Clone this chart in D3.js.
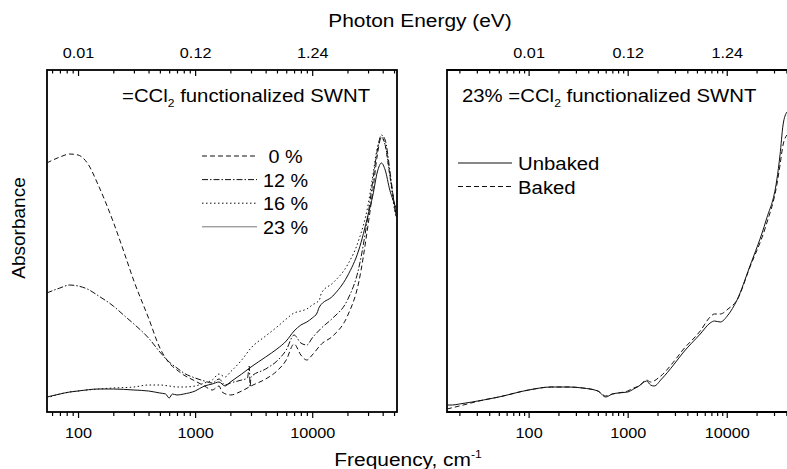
<!DOCTYPE html>
<html lang="en">
<head>
<meta charset="UTF-8">
<title>=CCl2 functionalized SWNT absorbance</title>
<style>
  body { margin: 0; background: #fff; }
  svg { display: block; font-family: Arial, "Liberation Sans", sans-serif; }
  .frame { fill: none; stroke: #000; stroke-width: 1.8px; }
  .curve { fill: none; stroke: #111; stroke-width: 1px; }
  .tick line { stroke: #000; stroke-width: 1.2px; }
</style>
</head>
<body>
<svg id="chart" width="787" height="469"></svg>
<script src="https://cdn.jsdelivr.net/npm/d3@7/dist/d3.min.js"></script>
<script>
// --- data (frequency in cm^-1, absorbance in arbitrary units) ---
const freq0 = [54, 70, 85, 100, 120, 150, 200, 250, 300, 400, 500, 600, 700, 800, 1000, 1200, 1400, 1600, 1700, 2000, 2500, 3000, 4000, 5000, 6000, 7000, 8000, 9000, 10000, 12000, 15000, 20000, 25000, 30000, 33000, 36000, 39000, 42000, 46000, 49000, 52000];
const abs0  = [2.49, 2.55, 2.58, 2.57, 2.49, 2.26, 1.90, 1.58, 1.31, 0.94, 0.64, 0.49, 0.42, 0.37, 0.31, 0.26, 0.22, 0.26, 0.20, 0.17, 0.21, 0.26, 0.33, 0.41, 0.52, 0.68, 0.57, 0.52, 0.57, 0.68, 0.76, 0.96, 1.30, 1.87, 2.22, 2.57, 2.75, 2.67, 2.37, 2.17, 1.97];

const freq12 = [54, 70, 85, 100, 120, 150, 200, 250, 300, 400, 500, 600, 700, 800, 1000, 1200, 1400, 1600, 1800, 2000, 2500, 2800, 2900, 2950, 3000, 4000, 5000, 6000, 7000, 8000, 9000, 10000, 12000, 15000, 20000, 25000, 30000, 33000, 36000, 39000, 42000, 46000, 49000, 52000];
const abs12  = [1.19, 1.24, 1.27, 1.26, 1.23, 1.16, 1.06, 0.96, 0.88, 0.74, 0.60, 0.50, 0.44, 0.39, 0.34, 0.31, 0.29, 0.33, 0.27, 0.29, 0.32, 0.34, 0.46, 0.25, 0.35, 0.43, 0.51, 0.62, 0.77, 0.69, 0.67, 0.74, 0.84, 0.94, 1.12, 1.44, 1.97, 2.32, 2.62, 2.77, 2.72, 2.42, 2.17, 1.95];

const freq16 = [54, 70, 85, 100, 150, 200, 300, 400, 500, 600, 700, 800, 1000, 1200, 1400, 1600, 1800, 2000, 2500, 3000, 4000, 5000, 6000, 7000, 8000, 9000, 10000, 11500, 12000, 15000, 20000, 25000, 30000, 33000, 36000, 39000, 42000, 46000, 49000, 52000];
const abs16  = [0.14, 0.18, 0.20, 0.21, 0.23, 0.24, 0.25, 0.27, 0.27, 0.26, 0.25, 0.25, 0.26, 0.29, 0.32, 0.38, 0.35, 0.40, 0.52, 0.64, 0.76, 0.85, 0.93, 0.99, 1.01, 1.03, 1.07, 1.12, 1.19, 1.29, 1.47, 1.72, 2.07, 2.37, 2.64, 2.74, 2.67, 2.37, 2.12, 1.94];

const freq23 = [54, 70, 85, 100, 150, 200, 300, 400, 500, 560, 600, 640, 700, 800, 1000, 1200, 1400, 1600, 1800, 2000, 2500, 3000, 4000, 5000, 6000, 7000, 8000, 9000, 10000, 11000, 11500, 15000, 20000, 25000, 30000, 33000, 36000, 39000, 42000, 46000, 49000, 52000];
const abs23  = [0.15, 0.18, 0.20, 0.21, 0.23, 0.23, 0.22, 0.21, 0.19, 0.18, 0.14, 0.18, 0.17, 0.18, 0.21, 0.26, 0.28, 0.30, 0.26, 0.30, 0.38, 0.45, 0.55, 0.63, 0.71, 0.81, 0.87, 0.90, 0.94, 0.99, 1.05, 1.16, 1.36, 1.62, 1.97, 2.17, 2.40, 2.49, 2.42, 2.22, 2.12, 2.04];

const freqUnbaked = [15, 17, 20, 35, 50, 100, 170, 250, 350, 500, 600, 700, 800, 1000, 1150, 1300, 1550, 1700, 1850, 2200, 2900, 3600, 5400, 6800, 7500, 8600, 10300, 12700, 17000, 25000, 32000, 34500, 37000, 40500];
const absUnbaked  = [0.07, 0.07, 0.08, 0.12, 0.15, 0.22, 0.25, 0.25, 0.24, 0.21, 0.15, 0.18, 0.19, 0.20, 0.23, 0.26, 0.31, 0.27, 0.26, 0.33, 0.47, 0.59, 0.78, 0.89, 0.91, 0.90, 0.97, 1.12, 1.45, 1.92, 2.32, 2.57, 2.87, 3.00];

const freqBaked = [15, 20, 35, 50, 100, 170, 250, 350, 500, 600, 700, 800, 1000, 1150, 1300, 1550, 1700, 2100, 2900, 3600, 5400, 6800, 7500, 8600, 10300, 12700, 17000, 25000, 32000, 34500, 37000, 40500];
const absBaked  = [0.03, 0.06, 0.12, 0.15, 0.22, 0.25, 0.25, 0.24, 0.21, 0.16, 0.18, 0.19, 0.21, 0.24, 0.26, 0.32, 0.30, 0.35, 0.50, 0.62, 0.81, 0.95, 0.98, 0.98, 1.03, 1.12, 1.44, 1.87, 2.27, 2.47, 2.67, 2.77];

const leftLabels = ["0 %", "12 %", "16 %", "23 %"];
const rightLabels = ["Unbaked", "Baked"];
const majorFreqs = [100, 1000, 10000];

const svg = d3.select("#chart");
const EV = 1.2398e-4; // eV per cm^-1

// scales
const y = d3.scaleLinear().domain([0, 3.42]).range([412, 70]);
const xL = d3.scaleLog().domain([54.3, 53000]).range([47, 397]);
const xR = d3.scaleLog().domain([15, 43500]).range([447, 790]);

function minorTicks(scale) {
    const [a, b] = scale.domain();
    const out = [];
    for (let e = Math.floor(Math.log10(a)); e <= Math.ceil(Math.log10(b)); e++) {
        for (let k = 2; k <= 9; k++) {
            const v = k * Math.pow(10, e);
            if (v >= a && v <= b) out.push(v);
        }
    }
    return out;
}

// text slightly wider than plain Arial, as in the original figure
function label(g, x, yy, str, size, anchor) {
    return g.append("text")
        .attr("transform", `translate(${x},${yy}) scale(1.1,1)`)
        .attr("font-size", size)
        .attr("text-anchor", anchor || "start")
        .text(str);
}

function drawAxes(x, clipId) {
    const minor = minorTicks(x);
    // bottom
    svg.append("g").attr("transform", "translate(0,412)")
        .call(d3.axisBottom(x).tickValues(minor).tickSize(4).tickFormat(""))
        .call(g => g.select(".domain").remove());
    svg.append("g").attr("transform", "translate(0,412)")
        .call(d3.axisBottom(x).tickValues(majorFreqs).tickSize(6).tickPadding(9.5).tickFormat(d3.format("d")))
        .call(g => g.select(".domain").remove())
        .call(g => g.selectAll("text").attr("font-size", 15).attr("font-family", "Arial, 'Liberation Sans', sans-serif")
            .attr("fill", "#000").attr("transform", "scale(1.08,1)"));
    // top: ticks point down into the frame, labels in eV
    svg.append("g").attr("transform", "translate(0,70)")
        .call(d3.axisBottom(x).tickValues(minor).tickSize(3.5).tickFormat(""))
        .call(g => g.select(".domain").remove());
    svg.append("g").attr("transform", "translate(0,70)")
        .call(d3.axisBottom(x).tickValues(majorFreqs).tickSize(6).tickFormat(""))
        .call(g => g.select(".domain").remove());
    svg.append("g").attr("transform", "translate(0,70)")
        .call(d3.axisTop(x).tickValues(majorFreqs).tickSize(0).tickPadding(12).tickFormat(d => d3.format(".2f")(d * EV)))
        .call(g => g.select(".domain").remove())
        .call(g => g.selectAll("text").attr("font-size", 15).attr("font-family", "Arial, 'Liberation Sans', sans-serif")
            .attr("fill", "#000").attr("transform", "scale(1.08,1)"));

    const [r0, r1] = x.range();
    svg.append("clipPath").attr("id", clipId)
        .append("rect").attr("x", r0).attr("y", 70).attr("width", r1 - r0).attr("height", 342);
}

drawAxes(xL, "clipL");
drawAxes(xR, "clipR");

// frames
svg.append("rect").attr("class", "frame").attr("x", 47).attr("y", 70).attr("width", 350).attr("height", 342);
svg.append("path").attr("class", "frame").attr("d", "M790,70H447V412H790");

// curves
const leftSeries = [
    { label: leftLabels[0], f: freq0,  a: abs0,  dash: "5,3" },
    { label: leftLabels[1], f: freq12, a: abs12, dash: "6,2,1.5,2" },
    { label: leftLabels[2], f: freq16, a: abs16, dash: "1.5,2.5" },
    { label: leftLabels[3], f: freq23, a: abs23, dash: null }
];
const rightSeries = [
    { label: rightLabels[0], f: freqUnbaked, a: absUnbaked, dash: null },
    { label: rightLabels[1], f: freqBaked,   a: absBaked,   dash: "5,3" }
];

function drawSeries(series, x, clipId) {
    const line = d3.line().x(d => x(d[0])).y(d => y(d[1])).curve(d3.curveMonotoneX);
    const g = svg.append("g").attr("clip-path", `url(#${clipId})`);
    series.forEach(s => {
        g.append("path")
            .attr("class", "curve")
            .attr("d", line(s.f.map((f, i) => [f, s.a[i]])))
            .attr("stroke-dasharray", s.dash);
    });
}
drawSeries(leftSeries, xL, "clipL");
drawSeries(rightSeries, xR, "clipR");

// legends
const legL = svg.append("g");
leftSeries.forEach((s, i) => {
    const ly = 156 + i * 23.6;
    legL.append("line").attr("x1", 202).attr("x2", 257).attr("y1", ly).attr("y2", ly)
        .attr("stroke", s.dash ? "#111" : "#777").attr("stroke-width", 1)
        .attr("stroke-dasharray", s.dash);
    label(legL, 285.5, ly + 7, s.label, 18, "middle");
});
const legR = svg.append("g");
rightSeries.forEach((s, i) => {
    const ly = 163 + i * 23.5;
    legR.append("line").attr("x1", 458).attr("x2", 512).attr("y1", ly).attr("y2", ly)
        .attr("stroke", "#111").attr("stroke-width", 1)
        .attr("stroke-dasharray", s.dash);
    label(legR, 518, ly + 7, s.label, 18.5, "start");
});

// annotations with subscript
function annot(x, yy, prefix) {
    const t = label(svg, x, yy, "", 18.5, "start");
    t.append("tspan").text(prefix + "=CCl");
    t.append("tspan").attr("font-size", 11).attr("dy", 5).text("2");
    t.append("tspan").attr("dy", -5).text(" functionalized SWNT");
}
annot(122, 102, "");
annot(462, 102, "23% ");

// axis titles
label(svg, 420, 27, "Photon Energy (eV)", 19, "middle");
const ft = label(svg, 408, 466, "", 19, "middle");
ft.append("tspan").text("Frequency, cm");
ft.append("tspan").attr("font-size", 11).attr("dy", -8).text("-1");
svg.append("text")
    .attr("transform", "translate(25,228) rotate(-90)")
    .attr("font-size", 19).attr("text-anchor", "middle")
    .text("Absorbance");
</script>
</body>
</html>
